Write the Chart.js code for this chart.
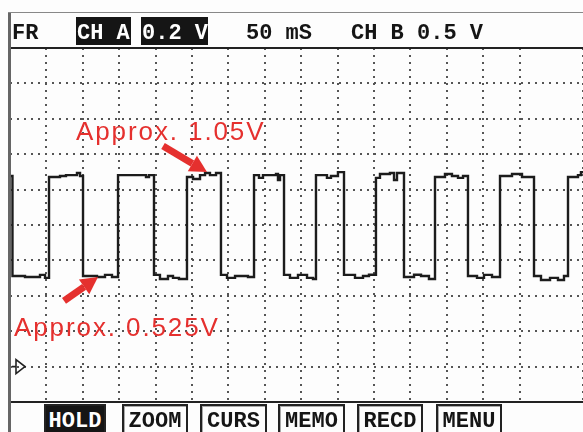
<!DOCTYPE html>
<html><head><meta charset="utf-8">
<script src="https://cdn.jsdelivr.net/npm/chart.js@4/dist/chart.umd.min.js"></script>
<style>
html,body{margin:0;padding:0;background:#fff;}
#wrap{position:relative;width:583px;height:432px;overflow:hidden;background:#fdfdfd;}
#c{position:absolute;left:0;top:0;}
.fr{position:absolute;background:#666;}
.hdr{position:absolute;font-family:"Liberation Mono","DejaVu Sans Mono",monospace;font-weight:bold;font-size:22px;line-height:22px;color:#151515;white-space:pre;}
.box{position:absolute;background:#151515;}
.btn{position:absolute;top:404px;height:40px;width:62px;border:2px solid #222;box-shadow:inset 1px 1px 0 #aaa;background:#fdfdfd;font-family:"Liberation Mono","DejaVu Sans Mono",monospace;font-weight:bold;font-size:22px;line-height:22px;color:#151515;text-align:center;padding-top:5px;box-sizing:border-box;}
.btn.on{background:#151515;color:#fff;box-shadow:none;}
.ann{position:absolute;font-family:"Liberation Sans",Arial,sans-serif;font-size:26px;line-height:26px;color:#e5302e;letter-spacing:1.9px;white-space:pre;}
</style></head>
<body>
<div id="wrap">
  <canvas id="c" width="583" height="432"></canvas>
  <div class="fr" style="left:8px;top:12px;width:3px;height:420px;"></div>
  <div class="fr" style="left:8px;top:12px;width:575px;height:1px;background:#888;"></div>
  <div class="box" style="left:76px;top:17px;width:55px;height:28px;"></div>
  <div class="box" style="left:141px;top:17px;width:67px;height:28px;"></div>
  <div class="hdr" style="left:12px;top:23px;">FR</div>
  <div class="hdr" style="left:77px;top:23px;color:#fff;">CH A</div>
  <div class="hdr" style="left:142px;top:23px;color:#fff;">0.2 V</div>
  <div class="hdr" style="left:246px;top:23px;">50 mS</div>
  <div class="hdr" style="left:351px;top:23px;">CH B 0.5 V</div>
  <div class="btn on" style="left:44px;">HOLD</div>
  <div class="btn" style="left:122px;width:66px;">ZOOM</div>
  <div class="btn" style="left:200px;width:67px;">CURS</div>
  <div class="btn" style="left:278px;width:67px;">MEMO</div>
  <div class="btn" style="left:357px;width:66px;">RECD</div>
  <div class="btn" style="left:436px;width:66px;">MENU</div>
  <div class="ann" style="left:76px;top:118px;">Approx. 1.05V</div>
  <div class="ann" style="left:14px;top:314px;">Approx. 0.525V</div>
</div>
<script>
// Time of each level change (ms) and the level it changes to (V)
const times = [0,3.4,20.6,41.2,48.1,53.6,68.7,76.9,92.0,96.2,100.3,119.5,130.5,140.1,148.4,186.8,190.9,197.8,206.0,217.0,223.9,232.1,243.1,251.4,261.0,267.9,274.7,283.0,289.8,298.1,309.1,326.9,335.2,342.0,347.5,365.4,368.1,370.9,376.4,384.6,395.6,408.0,416.2,420.3,435.4,440.9,450.5,458.8,473.9,484.9,493.1,502.7,508.2,521.9,527.5,531.6,541.2,555.0,564.6,575.5,583.8,597.5,607.1,615.4,622.3,629.1,641.5,651.1,662.1,673.1,689.6,703.3,719.8,729.4,741.8,752.7,761.0,766.5,780.2,784.3,787.1];
const volts = [1.077,0.512,0.506,0.518,0.501,1.071,1.077,1.082,1.094,1.077,0.512,0.506,0.518,0.506,1.082,1.071,1.082,0.518,0.495,0.512,0.501,0.495,1.071,1.060,1.082,1.094,1.082,1.094,0.518,0.501,0.512,0.506,1.082,1.066,1.082,1.088,1.054,1.082,0.518,0.501,0.518,0.501,0.495,1.082,1.066,1.077,1.099,0.518,0.501,0.512,0.519,1.066,1.088,1.094,1.054,1.094,0.506,0.519,0.512,0.495,1.071,1.088,1.077,1.066,1.077,0.512,0.501,0.518,0.506,1.077,1.088,1.071,0.512,0.489,0.501,0.489,0.512,1.071,1.082,1.099,1.099];
// Screen: 50 ms/div horizontally, 0.2 V/div vertically, ground marker at 0 V
const timeRange = [0, 787.1];
const voltRange = [-0.2, 1.8];
const timeStep = 50;
const voltStep = 0.2;
// Annotation arrows: [tailTime, tailVolt, tipTime, tipVolt]
const arrows = [[210.2,1.246,270.6,1.099],[74.2,0.371,120.9,0.506]];
const groundVolt = 0;

const points = times.map((t,i)=>({x:t,y:volts[i]}));

const decor = {
  id:'decor',
  afterDatasetsDraw(chart){
    const {ctx, scales:{x,y}} = chart;
    ctx.save();
    // ground marker
    const gy = y.getPixelForValue(groundVolt);
    const gx = x.getPixelForValue(timeRange[0]);
    ctx.strokeStyle = '#222'; ctx.lineWidth = 1.6;
    ctx.beginPath();
    ctx.moveTo(gx+2, gy); ctx.lineTo(gx+6, gy);
    ctx.moveTo(gx+6, gy-7); ctx.lineTo(gx+6, gy+7); ctx.lineTo(gx+15, gy); ctx.closePath();
    ctx.stroke();
    // arrows
    ctx.fillStyle = '#e5302e'; ctx.strokeStyle = '#e5302e';
    arrows.forEach(a=>{
      const x0 = x.getPixelForValue(a[0]), y0 = y.getPixelForValue(a[1]);
      const x1 = x.getPixelForValue(a[2]), y1 = y.getPixelForValue(a[3]);
      const ang = Math.atan2(y1-y0, x1-x0);
      const hl = 17, hw = 9;
      const bx = x1 - hl*Math.cos(ang), by = y1 - hl*Math.sin(ang);
      ctx.lineWidth = 7; ctx.lineCap = 'butt';
      ctx.beginPath(); ctx.moveTo(x0,y0); ctx.lineTo(bx,by); ctx.stroke();
      ctx.beginPath();
      ctx.moveTo(x1,y1);
      ctx.lineTo(bx + hw*Math.sin(ang), by - hw*Math.cos(ang));
      ctx.lineTo(bx - hw*Math.sin(ang), by + hw*Math.cos(ang));
      ctx.closePath(); ctx.fill();
    });
    ctx.restore();
  }
};

new Chart(document.getElementById('c'), {
  type:'line',
  data:{datasets:[{data:points, stepped:true, borderColor:'#1c1c1c', borderWidth:2.4, pointRadius:0, fill:false}]},
  options:{
    responsive:false, animation:false, events:[],
    layout:{padding:{left:10, top:48, right:0, bottom:30}},
    plugins:{legend:{display:false}, tooltip:{enabled:false}},
    scales:{
      x:{type:'linear', min:timeRange[0], max:timeRange[1],
         ticks:{display:false, stepSize:timeStep},
         grid:{color:'#555', lineWidth:2, drawTicks:false},
         border:{display:true, color:'#222', width:2, dash:[2,5]}},
      xTop:{type:'linear', position:'top', min:timeRange[0], max:timeRange[1],
         ticks:{display:false}, grid:{display:false, drawTicks:false},
         border:{display:true, color:'#222', width:2}},
      y:{min:voltRange[0], max:voltRange[1],
         ticks:{display:false, stepSize:voltStep},
         grid:{color:'#555', lineWidth:2, drawTicks:false},
         border:{display:false, dash:[2,5]}}
    }
  },
  plugins:[decor]
});
</script>
</body></html>
